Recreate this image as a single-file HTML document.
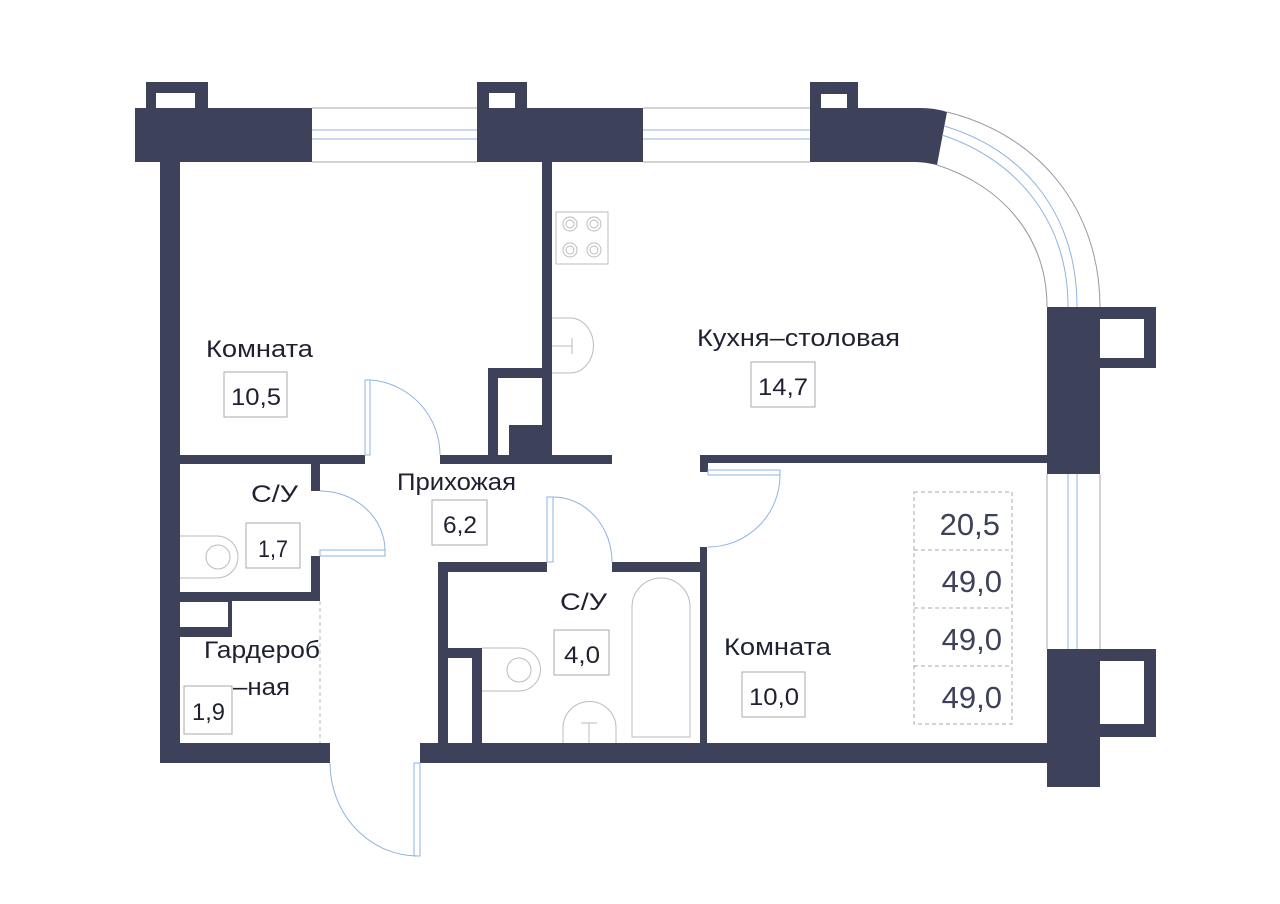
<!DOCTYPE html>
<html><head><meta charset="utf-8"><style>
html,body{margin:0;padding:0;background:#fff;}
svg{display:block;}
text{font-family:"Liberation Sans Narrow","Liberation Sans",sans-serif;fill:#1f2130;}
</style></head><body>
<svg width="1280" height="904" viewBox="0 0 1280 904" xmlns="http://www.w3.org/2000/svg">
<g fill="#3d4159">
<rect x="135" y="108" width="177" height="54"/>
<rect x="146" y="82" width="62" height="27"/>
<rect x="477" y="108" width="166" height="54"/>
<rect x="477" y="82" width="50" height="27"/>
<path d="M810 108 L920 108 Q935 108 947 112 L937 165 Q925 162 915 162 L810 162 Z"/>
<rect x="810" y="82" width="48" height="27"/>
<rect x="1047" y="307" width="53" height="167"/>
<rect x="1100" y="307" width="56" height="61"/>
<rect x="1047" y="649" width="53" height="138"/>
<rect x="1100" y="649" width="56" height="88"/>
<rect x="160" y="162" width="20" height="600"/>
<rect x="160" y="743" width="170" height="20"/>
<rect x="420" y="743" width="627" height="20"/>
<rect x="542" y="162" width="10" height="293"/>
<rect x="488" y="368" width="64" height="96"/>
<rect x="160" y="455" width="205" height="9"/>
<rect x="440" y="455" width="172" height="9"/>
<rect x="700" y="455" width="347" height="8"/>
<rect x="700" y="455" width="8" height="17"/>
<rect x="311" y="464" width="9" height="27"/>
<rect x="311" y="556" width="9" height="45"/>
<rect x="180" y="592" width="140" height="9"/>
<rect x="180" y="601" width="52" height="36"/>
<rect x="438" y="562" width="10" height="181"/>
<rect x="438" y="562" width="109" height="10"/>
<rect x="612" y="562" width="95" height="10"/>
<rect x="700" y="547" width="7" height="196"/>
<rect x="448" y="648" width="34" height="10"/>
<rect x="472" y="648" width="10" height="95"/>
</g>
<g fill="#fff">
<rect x="156" y="93" width="39" height="15"/>
<rect x="489" y="93" width="26" height="15"/>
<rect x="821" y="94" width="26" height="14"/>
<rect x="1100" y="319" width="44" height="39"/>
<rect x="1100" y="661" width="44" height="63"/>
<rect x="498" y="378" width="44" height="47"/>
<rect x="498" y="424" width="11" height="31"/>
<rect x="180" y="602" width="48" height="25"/>
<rect x="448" y="658" width="24" height="85"/>
</g>
<g fill="none" stroke-width="1">
<line x1="312" y1="108" x2="477" y2="108" stroke="#aaa"/>
<line x1="312" y1="162" x2="477" y2="162" stroke="#aaa"/>
<line x1="312" y1="130" x2="477" y2="130" stroke="#8fb3dc"/>
<line x1="312" y1="139" x2="477" y2="139" stroke="#8fb3dc"/>
<line x1="643" y1="108" x2="810" y2="108" stroke="#aaa"/>
<line x1="643" y1="162" x2="810" y2="162" stroke="#aaa"/>
<line x1="643" y1="130" x2="810" y2="130" stroke="#8fb3dc"/>
<line x1="643" y1="139" x2="810" y2="139" stroke="#8fb3dc"/>
<path d="M947 112 C1040 135 1100 210 1100 307" stroke="#999"/>
<path d="M937 165 C1000 185 1047 235 1047 307" stroke="#999"/>
<path d="M944 126 C1025 150 1077 215 1077 307" stroke="#8fb3dc"/>
<path d="M942 135 C1018 160 1068 222 1068 307" stroke="#8fb3dc"/>
<line x1="1047" y1="474" x2="1047" y2="649" stroke="#aaa"/>
<line x1="1100" y1="474" x2="1100" y2="649" stroke="#aaa"/>
<line x1="1068" y1="474" x2="1068" y2="649" stroke="#8fb3dc"/>
<line x1="1077" y1="474" x2="1077" y2="649" stroke="#8fb3dc"/>
</g>
<g fill="none" stroke="#8fb3dc" stroke-width="1">
<rect x="365" y="380" width="5" height="75"/>
<path d="M370 380 A75 75 0 0 1 440 455"/>
<rect x="320" y="550" width="65" height="6"/>
<path d="M320 491 A65 60 0 0 1 385 550"/>
<rect x="547" y="497" width="6" height="65"/>
<path d="M553 497 A59 65 0 0 1 612 562"/>
<rect x="708" y="470" width="72" height="5"/>
<path d="M780 475 A72 72 0 0 1 708 547"/>
<rect x="414" y="763" width="6" height="93"/>
<path d="M330 763 A88 93 0 0 0 418 856"/>
</g>
<g fill="none" stroke="#bbb" stroke-width="1">
<line x1="320" y1="601" x2="320" y2="743" stroke-dasharray="4 3"/>
<path d="M180 536 L217 536 A21 21 0 0 1 217 578 L180 578"/>
<circle cx="218" cy="557" r="12"/>
<path d="M482 648 L519 648 A21 21 0 0 1 519 691 L482 691"/>
<circle cx="519" cy="670" r="12"/>
<path d="M563 743 L563 728 A26 26 0 0 1 616 728 L616 743"/>
<path d="M589 743 L589 723 M581 723 L597 723"/>
<path d="M632 737 L632 607 A29 29 0 0 1 690 607 L690 737 Z"/>
<rect x="556" y="212" width="52" height="52"/>
<circle cx="570" cy="224" r="7"/><circle cx="570" cy="224" r="4"/>
<circle cx="594" cy="224" r="7"/><circle cx="594" cy="224" r="4"/>
<circle cx="570" cy="250" r="7"/><circle cx="570" cy="250" r="4"/>
<circle cx="594" cy="250" r="7"/><circle cx="594" cy="250" r="4"/>
<path d="M552 318 L570 318 A23 27 0 0 1 570 373 L552 373"/>
<path d="M552 346 L572 346 M572 338 L572 354"/>
<rect x="224" y="372" width="63" height="45" stroke="#aaa"/>
<rect x="751" y="362" width="64" height="45" stroke="#aaa"/>
<rect x="246" y="523" width="54" height="45" stroke="#aaa"/>
<rect x="432" y="500" width="55" height="45" stroke="#aaa"/>
<rect x="554" y="630" width="55" height="45" stroke="#aaa"/>
<rect x="184" y="686" width="48" height="48" stroke="#aaa"/>
<rect x="742" y="672" width="63" height="45" stroke="#aaa"/>
<rect x="914" y="492" width="98" height="232" stroke="#aaa" stroke-dasharray="4 3"/>
<line x1="914" y1="550" x2="1012" y2="550" stroke="#aaa" stroke-dasharray="4 3"/>
<line x1="914" y1="608" x2="1012" y2="608" stroke="#aaa" stroke-dasharray="4 3"/>
<line x1="914" y1="666" x2="1012" y2="666" stroke="#aaa" stroke-dasharray="4 3"/>
</g>
<g font-size="24">
<text x="206" y="357" textLength="107" lengthAdjust="spacingAndGlyphs">Комната</text>
<text x="231" y="405" textLength="50" lengthAdjust="spacingAndGlyphs">10,5</text>
<text x="697" y="346" textLength="203" lengthAdjust="spacingAndGlyphs">Кухня–столовая</text>
<text x="758" y="395" textLength="50" lengthAdjust="spacingAndGlyphs">14,7</text>
<text x="251" y="502" textLength="47" lengthAdjust="spacingAndGlyphs">С/У</text>
<text x="258" y="557" textLength="30" lengthAdjust="spacingAndGlyphs">1,7</text>
<text x="397" y="490" textLength="119" lengthAdjust="spacingAndGlyphs">Прихожая</text>
<text x="443" y="533" textLength="34" lengthAdjust="spacingAndGlyphs">6,2</text>
<text x="560" y="610" textLength="47" lengthAdjust="spacingAndGlyphs">С/У</text>
<text x="564" y="663" textLength="36" lengthAdjust="spacingAndGlyphs">4,0</text>
<text x="204" y="658" textLength="116" lengthAdjust="spacingAndGlyphs">Гардероб</text>
<text x="233" y="695" textLength="57" lengthAdjust="spacingAndGlyphs">–ная</text>
<text x="192" y="720" textLength="33" lengthAdjust="spacingAndGlyphs">1,9</text>
<text x="724" y="655" textLength="107" lengthAdjust="spacingAndGlyphs">Комната</text>
<text x="749" y="705" textLength="50" lengthAdjust="spacingAndGlyphs">10,0</text>
</g>
<g font-size="31">
<text x="1000" y="535" text-anchor="end" style="fill:#3d4159">20,5</text>
<text x="1002" y="592" text-anchor="end" style="fill:#3d4159">49,0</text>
<text x="1002" y="650" text-anchor="end" style="fill:#3d4159">49,0</text>
<text x="1002" y="708" text-anchor="end" style="fill:#3d4159">49,0</text>
</g>
</svg>
</body></html>
